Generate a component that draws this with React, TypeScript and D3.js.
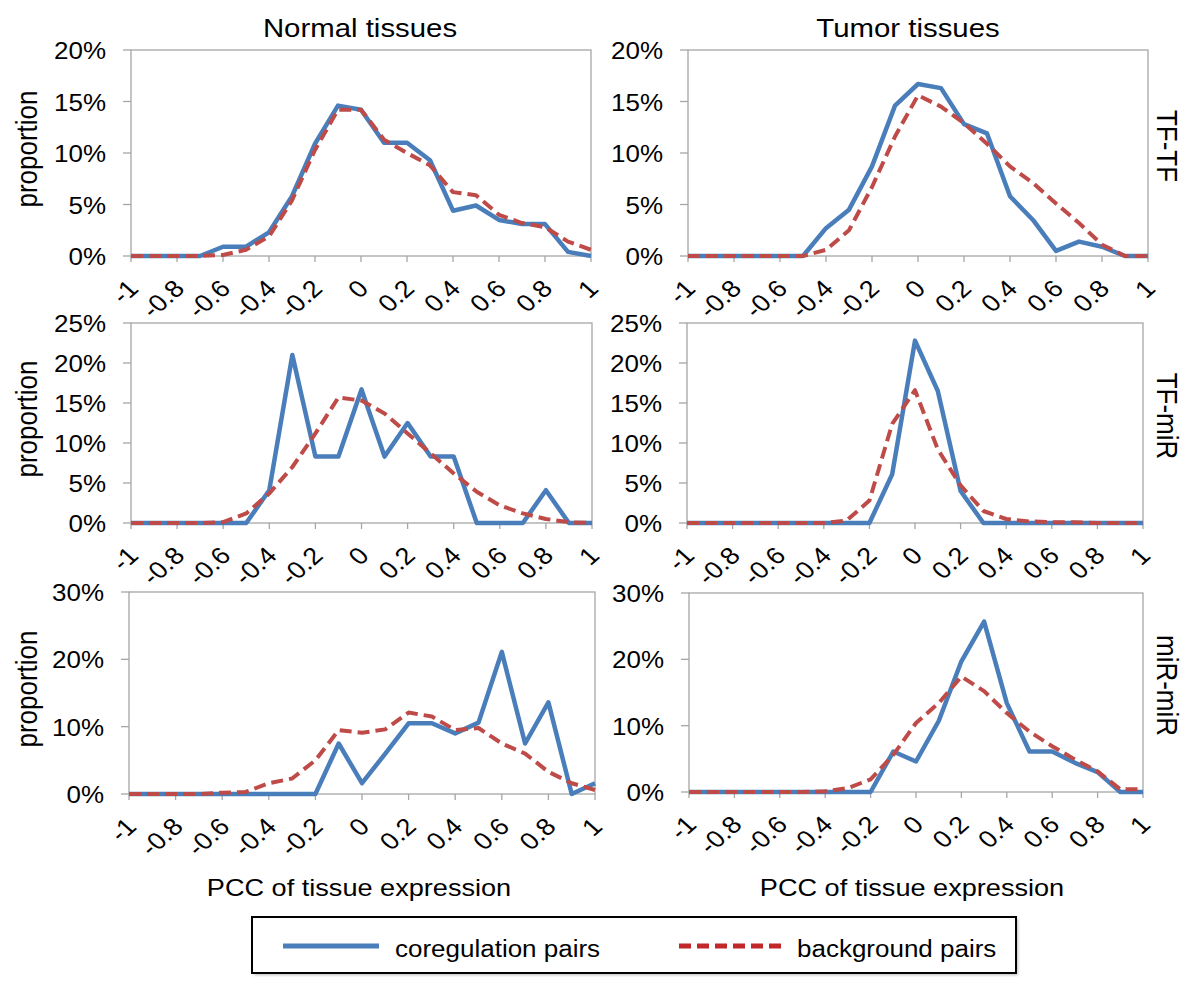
import React from "react";
import * as d3 from "d3";

// ---------- data ----------
const PCC = [-1, -0.9, -0.8, -0.7, -0.6, -0.5, -0.4, -0.3, -0.2, -0.1, 0, 0.1, 0.2, 0.3, 0.4, 0.5, 0.6, 0.7, 0.8, 0.9, 1];
const X_TICKS = [-1, -0.8, -0.6, -0.4, -0.2, 0, 0.2, 0.4, 0.6, 0.8, 1];
const X_TICK_LABELS = ["-1", "-0.8", "-0.6", "-0.4", "-0.2", "0", "0.2", "0.4", "0.6", "0.8", "1"];
const COLUMN_TITLES = ["Normal tissues", "Tumor tissues"];
const ROW_LABELS = ["TF-TF", "TF-miR", "miR-miR"];
const ROW_Y_MAX = [20, 25, 30];
const ROW_Y_STEP = [5, 5, 10];
const SERIES_NAMES = ["coregulation pairs", "background pairs"];
const X_TITLE = "PCC of tissue expression";
const Y_TITLE = "proportion";

// values in percent
const normalTfTfCoreg = [0, 0, 0, 0, 0.9, 0.9, 2.3, 5.8, 10.9, 14.6, 14.2, 11.0, 11.0, 9.3, 4.4, 4.9, 3.5, 3.1, 3.1, 0.4, 0];
const normalTfTfBackground = [0, 0, 0, 0, 0.1, 0.6, 1.9, 5.4, 10.3, 14.2, 14.2, 11.3, 10.0, 8.8, 6.2, 5.9, 4.0, 3.2, 2.8, 1.4, 0.6];
const tumorTfTfCoreg = [0, 0, 0, 0, 0, 0, 2.7, 4.5, 8.7, 14.6, 16.7, 16.3, 12.8, 11.9, 5.8, 3.5, 0.5, 1.4, 0.9, 0, 0];
const tumorTfTfBackground = [0, 0, 0, 0, 0, 0, 0.6, 2.5, 6.7, 11.6, 15.6, 14.5, 12.9, 10.9, 8.7, 7.1, 5.1, 3.2, 1.1, 0, 0];
const normalTfMirCoreg = [0, 0, 0, 0, 0, 0, 4.1, 21.0, 8.3, 8.3, 16.7, 8.3, 12.5, 8.3, 8.3, 0, 0, 0, 4.1, 0, 0];
const normalTfMirBackground = [0, 0, 0, 0, 0.1, 1.2, 3.7, 7.0, 11.2, 15.7, 15.3, 13.7, 11.2, 8.7, 6.2, 3.9, 2.2, 1.2, 0.5, 0.1, 0];
const tumorTfMirCoreg = [0, 0, 0, 0, 0, 0, 0, 0, 0, 6.1, 22.8, 16.5, 4.0, 0, 0, 0, 0, 0, 0, 0, 0];
const tumorTfMirBackground = [0, 0, 0, 0, 0, 0, 0, 0.3, 2.8, 12.4, 16.6, 9.2, 4.7, 1.5, 0.5, 0.2, 0.1, 0.1, 0, 0, 0];
const normalMirMirCoreg = [0, 0, 0, 0, 0, 0, 0, 0, 0, 7.5, 1.6, 6.0, 10.5, 10.5, 9.0, 10.6, 21.1, 7.5, 13.6, 0, 1.6];
const normalMirMirBackground = [0, 0, 0, 0, 0.2, 0.3, 1.6, 2.3, 5.0, 9.5, 9.1, 9.6, 12.1, 11.5, 9.5, 9.8, 7.5, 6.0, 3.3, 1.6, 0.6];
const tumorMirMirCoreg = [0, 0, 0, 0, 0, 0, 0, 0, 0, 6.1, 4.6, 10.7, 19.7, 25.7, 13.4, 6.1, 6.1, 4.4, 3.0, 0, 0];
const tumorMirMirBackground = [0, 0, 0, 0, 0, 0, 0.1, 0.6, 1.9, 5.6, 10.4, 13.4, 17.4, 15.2, 11.9, 9.1, 6.9, 4.9, 3.1, 0.4, 0.4];

const PANEL_SERIES = [
  [normalTfTfCoreg, normalTfTfBackground],
  [tumorTfTfCoreg, tumorTfTfBackground],
  [normalTfMirCoreg, normalTfMirBackground],
  [tumorTfMirCoreg, tumorTfMirBackground],
  [normalMirMirCoreg, normalMirMirBackground],
  [tumorMirMirCoreg, tumorMirMirBackground],
];

// ---------- layout ----------
const RECTS = [
  { x0: 131, x1: 591, y0: 50, y1: 256 },
  { x0: 688, x1: 1148, y0: 50, y1: 256 },
  { x0: 131, x1: 592, y0: 323, y1: 523 },
  { x0: 687, x1: 1143, y0: 323, y1: 523 },
  { x0: 129, x1: 595, y0: 592, y1: 794 },
  { x0: 689, x1: 1143, y0: 593, y1: 792 },
];

const BLUE = "#4a7ebb";
const RED = "#be4b48";
const AXIS = "#a6a6a6";
const FONT = "'Liberation Sans', Arial, Helvetica, sans-serif";
const SX = 1.13;

function Txt({ x, y, rot = 0, anchor = "middle", size, children }: any) {
  return (
    <text
      transform={`translate(${x},${y}) scale(${SX},1) rotate(${rot})`}
      textAnchor={anchor}
      fontSize={size}
      fontFamily={FONT}
      fill="#000"
    >
      {children}
    </text>
  );
}

function Panel({ idx }: { idx: number }) {
  const r = RECTS[idx];
  const row = Math.floor(idx / 2);
  const col = idx % 2;
  const yMax = ROW_Y_MAX[row];
  const yStep = ROW_Y_STEP[row];
  const x = d3.scaleLinear().domain([-1, 1]).range([r.x0, r.x1]);
  const y = d3.scaleLinear().domain([0, yMax]).range([r.y1, r.y0]);
  const yTicks = d3.range(0, yMax + 0.001, yStep);
  const line = d3
    .line<number>()
    .x((_, i) => x(PCC[i]))
    .y((v) => y(v));
  const [coreg, bg] = PANEL_SERIES[idx];
  const midY = (r.y0 + r.y1) / 2;
  return (
    <g>
      <rect x={r.x0} y={r.y0} width={r.x1 - r.x0} height={r.y1 - r.y0} fill="none" stroke={AXIS} strokeWidth={1.3} />
      {yTicks.map((t) => (
        <g key={"y" + t}>
          <line x1={r.x0 - 8} x2={r.x0} y1={y(t)} y2={y(t)} stroke={AXIS} strokeWidth={1.3} />
          <Txt x={r.x0 - 25} y={y(t) + 9} anchor="end" size={23}>{`${t}%`}</Txt>
        </g>
      ))}
      {X_TICKS.map((t, i) => (
        <g key={"x" + t}>
          <line x1={x(t)} x2={x(t)} y1={r.y1} y2={r.y1 + 6} stroke={AXIS} strokeWidth={1.3} />
          <Txt x={x(t) + 9} y={r.y1 + 34} rot={-45} anchor="end" size={24}>{X_TICK_LABELS[i]}</Txt>
        </g>
      ))}
      <path d={line(coreg) || ""} fill="none" stroke={BLUE} strokeWidth={4.5} strokeLinejoin="round" />
      <path d={line(bg) || ""} fill="none" stroke={RED} strokeWidth={4} strokeDasharray="12,6" strokeLinejoin="round" />
      {col === 0 && <Txt x={37} y={midY - 4} rot={-90} size={26}>{Y_TITLE}</Txt>}
      {col === 1 && <Txt x={1157} y={midY - 7} rot={90} size={26}>{ROW_LABELS[row]}</Txt>}
    </g>
  );
}

export default function App() {
  return (
    <svg
      width={1200}
      height={988}
      viewBox="0 0 1200 988"
      style={{ position: "absolute", left: 0, top: 0, display: "block", background: "#fff" }}
    >
      <defs>
        <filter id="sh" x="-20%" y="-200%" width="140%" height="500%">
          <feGaussianBlur stdDeviation="1.5" />
        </filter>
      </defs>
      <rect x={0} y={0} width={1200} height={988} fill="#fff" />
      <Txt x={360} y={37} size={26}>{COLUMN_TITLES[0]}</Txt>
      <Txt x={908} y={37} size={26}>{COLUMN_TITLES[1]}</Txt>
      {RECTS.map((_, i) => (
        <Panel key={i} idx={i} />
      ))}
      <Txt x={359} y={896} size={24}>{X_TITLE}</Txt>
      <Txt x={912} y={896} size={24}>{X_TITLE}</Txt>
      {/* legend */}
      <rect x={254} y={919} width={764} height={56} fill="#bbb" filter="url(#sh)" />
      <rect x={252} y={917} width={764} height={56} fill="#fff" stroke="#000" strokeWidth={2} />
      <line x1={283} x2={379} y1={949} y2={949} stroke="#999" strokeWidth={4} filter="url(#sh)" />
      <line x1={283} x2={379} y1={946} y2={946} stroke={BLUE} strokeWidth={5} />
      <Txt x={395} y={957} anchor="start" size={23}>{SERIES_NAMES[0]}</Txt>
      <line x1={679} x2={784} y1={949} y2={949} stroke="#bbb" strokeWidth={4} strokeDasharray="12,6" filter="url(#sh)" />
      <line x1={679} x2={784} y1={946} y2={946} stroke="#c0282a" strokeWidth={5} strokeDasharray="12,6" />
      <Txt x={797} y={957} anchor="start" size={23}>{SERIES_NAMES[1]}</Txt>
    </svg>
  );
}
